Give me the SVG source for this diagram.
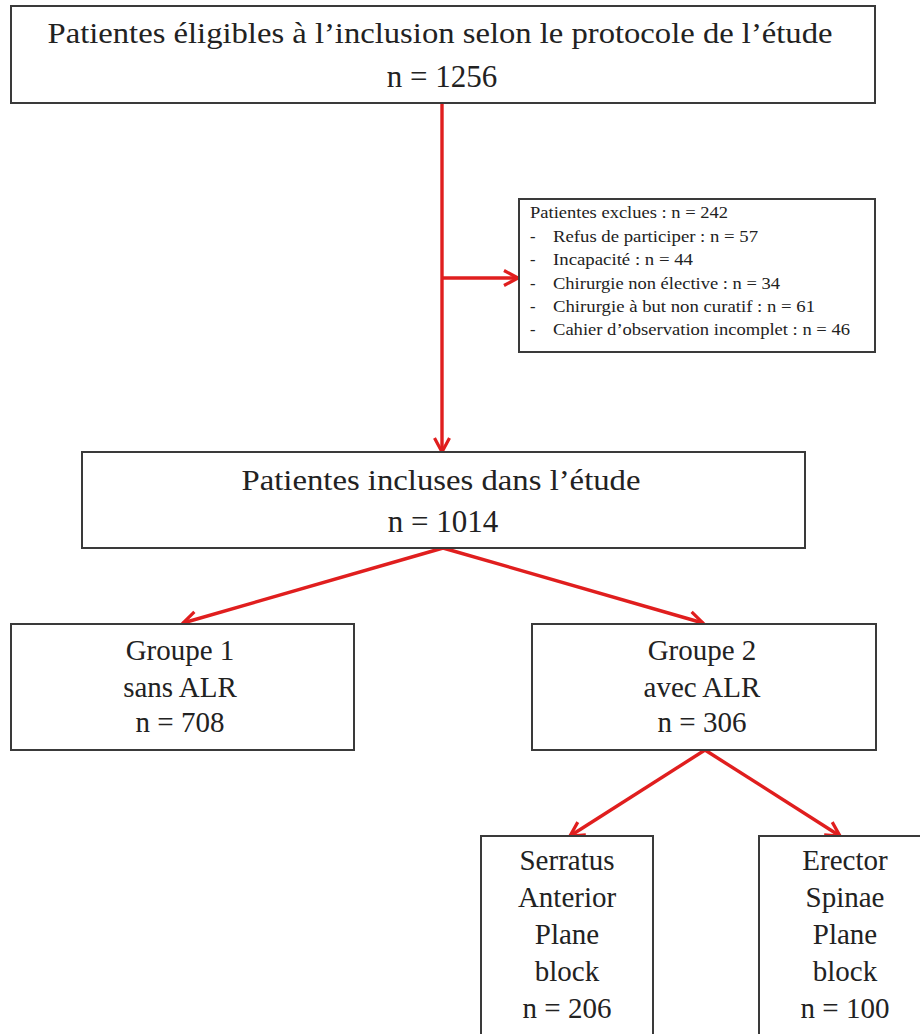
<svg xmlns="http://www.w3.org/2000/svg" width="920" height="1034" viewBox="0 0 920 1034">
<defs>
<style>
.box{fill:#fff;stroke:#3a3a3a;stroke-width:2}
text{font-family:'Liberation Serif','Times New Roman','DejaVu Serif',serif;fill:#222}
.t{text-anchor:middle}
.big{font-size:30px}
.num{font-size:31px}
.mid{font-size:29px}
.sm{font-size:16.5px}
.c{fill:none;stroke:#e01e1e;stroke-width:3.4;marker-end:url(#ah)}
</style>
<marker id="ah" markerUnits="userSpaceOnUse" markerWidth="20" markerHeight="20" viewBox="0 0 20 20" refX="17" refY="10" orient="auto">
<path d="M3,2.5 L17,10 L3,17.5" fill="none" stroke="#e01e1e" stroke-width="3.2"/>
</marker>
</defs>
<rect width="920" height="1034" fill="#fff"/>

<g id="connectors">
<path class="c" d="M442,103 V452"/>
<path class="c" d="M442,278 H518"/>
<path class="c" d="M443,548 L183,623"/>
<path class="c" d="M443,548 L703,623"/>
<path class="c" d="M705,750 L570,836"/>
<path class="c" d="M705,750 L840,836"/>
</g>

<g id="eligible">
<rect class="box" x="11" y="6" width="864" height="97"/>
<text class="t big" x="440" y="43" textLength="785" lengthAdjust="spacingAndGlyphs">Patientes éligibles à l’inclusion selon le protocole de l’étude</text>
<text class="t num" x="442" y="87">n = 1256</text>
</g>

<g id="excluded">
<rect class="box" x="519" y="199" width="356" height="153"/>
<text class="sm" x="530" y="218" textLength="198" lengthAdjust="spacingAndGlyphs">Patientes  exclues : n = 242</text>
<text class="sm" x="530" y="242">-</text>
<text class="sm" x="553" y="242" textLength="205" lengthAdjust="spacingAndGlyphs">Refus de participer : n =  57</text>
<text class="sm" x="530" y="265">-</text>
<text class="sm" x="553" y="265" textLength="140" lengthAdjust="spacingAndGlyphs">Incapacité : n = 44</text>
<text class="sm" x="530" y="289">-</text>
<text class="sm" x="553" y="289" textLength="227" lengthAdjust="spacingAndGlyphs">Chirurgie non élective : n = 34</text>
<text class="sm" x="530" y="312">-</text>
<text class="sm" x="553" y="312" textLength="262" lengthAdjust="spacingAndGlyphs">Chirurgie à but non curatif : n = 61</text>
<text class="sm" x="530" y="335">-</text>
<text class="sm" x="553" y="335" textLength="297" lengthAdjust="spacingAndGlyphs">Cahier d’observation incomplet : n = 46</text>
</g>

<g id="included">
<rect class="box" x="82" y="452" width="723" height="96"/>
<text class="t big" x="441" y="490" textLength="399" lengthAdjust="spacingAndGlyphs">Patientes incluses dans l’étude</text>
<text class="t num" x="443" y="532">n = 1014</text>
</g>

<g id="group1">
<rect class="box" x="11" y="624" width="343" height="126"/>
<text class="t mid" x="180" y="660">Groupe 1</text>
<text class="t mid" x="180" y="697">sans ALR</text>
<text class="t mid" x="180" y="732">n = 708</text>
</g>

<g id="group2">
<rect class="box" x="532" y="624" width="344" height="126"/>
<text class="t mid" x="702" y="660">Groupe 2</text>
<text class="t mid" x="702" y="697">avec ALR</text>
<text class="t mid" x="702" y="732">n = 306</text>
</g>

<g id="serratus">
<rect class="box" x="481" y="836" width="172" height="210"/>
<text class="t mid" x="567" y="870">Serratus</text>
<text class="t mid" x="567" y="907">Anterior</text>
<text class="t mid" x="567" y="944">Plane</text>
<text class="t mid" x="567" y="981">block</text>
<text class="t mid" x="567" y="1018">n = 206</text>
</g>

<g id="erector">
<rect class="box" x="759" y="836" width="172" height="210"/>
<text class="t mid" x="845" y="870">Erector</text>
<text class="t mid" x="845" y="907">Spinae</text>
<text class="t mid" x="845" y="944">Plane</text>
<text class="t mid" x="845" y="981">block</text>
<text class="t mid" x="845" y="1018">n = 100</text>
</g>
</svg>
